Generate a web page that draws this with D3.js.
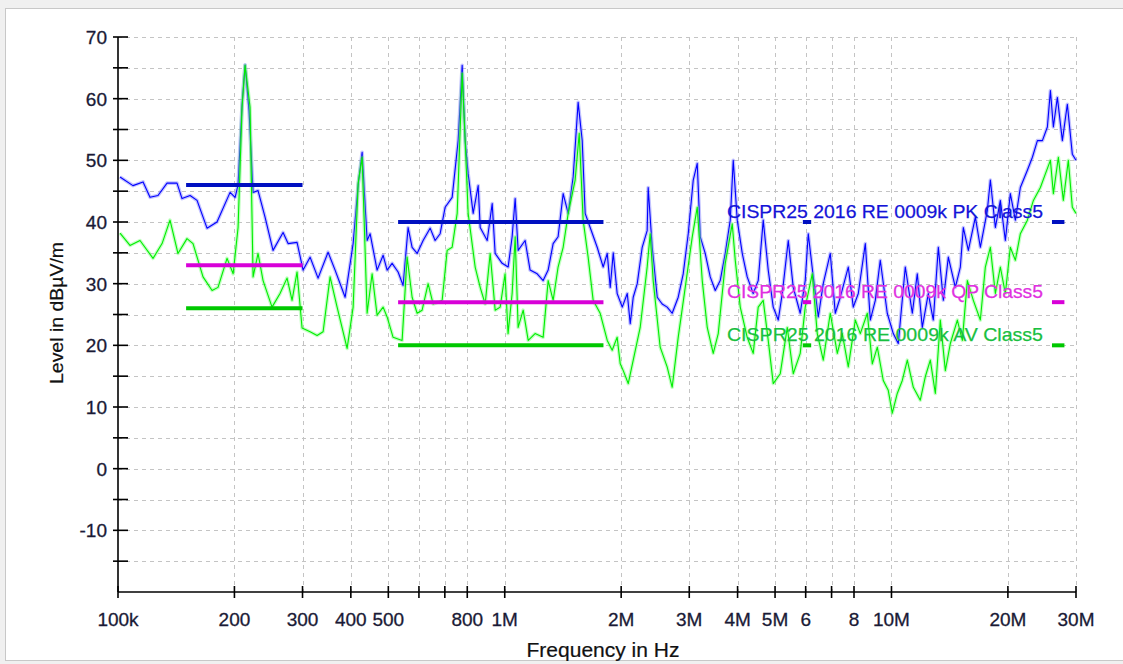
<!DOCTYPE html>
<html>
<head>
<meta charset="utf-8">
<script src="https://cdn.jsdelivr.net/npm/d3@7/dist/d3.min.js"></script>
<style>
  html, body { margin: 0; padding: 0; background: #f0f0f0; }
  svg { display: block; }
  text { font-family: "Liberation Sans", Arial, sans-serif; }
</style>
</head>
<body>
<svg id="chart" width="1123" height="664"></svg>
<script>
// ---------- data (frequencies in kHz, levels in dBµV/m) ----------
const pkFreq = [101.2,109.3,116.1,121.0,126.9,133.9,142.1,146.4,153.6,160.1,169.9,180.3,194.9,200.8,204.4,209.3,213.1,218.2,223.5,230.2,240.0,251.7,267.2,275.3,290.4,301.0,313.8,329.1,349.3,364.2,386.6,405.5,417.8,427.8,440.7,448.6,467.7,484.8,496.4,511.4,530.0,546.1,562.5,576.1,593.6,615.1,641.3,660.7,680.7,701.4,731.2,757.9,776.1,790.1,804.3,828.6,853.7,864.0,900.8,928.0,944.6,984.7,1020.5,1045,1064,1083,1129,1163,1213,1257,1295,1334,1374,1416,1459,1503,1548,1586,1614,1663,1734,1797,1841,1874,1908,1953,2013,2074,2111,2149,2201,2267,2335,2349,2406,2479,2553,2630,2710,2809,2894,2982,3072,3146,3203,3299,3399,3502,3607,3717,3829,3898,3992,4113,4236,4390,4523,4660,4801,4946,5096,5219,5409,5572,5808,5984,6093,6277,6467,6662,6946,7156,7373,7732,7966,8207,8557,8816,9082,9354,9752,10108,10413,10857,11320,11660,12014,12451,12828,13218,13617,14028,14626,15068,15339,15803,16476,16973,17696,18016,18560,19120,19700,20290,20910,21540,22460,23140,23840,24560,25300,25760,26220,26850,27660,28490,29350,30000];
const pkLevel = [47.3,45.9,46.5,44.0,44.3,46.3,46.3,43.8,44.3,43.5,39.0,40.0,44.8,44.0,46.0,59.0,65.5,58.0,44.8,45.1,40.8,35.4,38.3,36.5,36.7,32.2,34.3,30.9,35.1,32.2,27.8,36.5,46.0,51.3,37.0,38.1,32.2,34.6,32.2,33.3,31.9,29.7,39.1,35.9,34.9,37.0,39.0,37.0,38.1,42.4,44.0,53.2,65.4,53.2,47.8,41.4,45.9,39.1,37.0,43.0,34.9,33.3,32.7,37.6,43.8,35.4,37.0,32.2,31.6,30.5,32.2,36.5,37.6,44.6,41.4,47.3,59.4,53.2,41.4,39.1,35.9,32.7,34.9,29.4,35.0,28.4,26.2,28.4,23.5,27.8,30.0,35.9,38.6,45.6,35.9,27.8,26.7,26.2,25.2,27.8,31.6,38.1,46.8,49.5,37.6,34.9,31.1,28.9,30.5,34.9,40.3,50.0,40.3,34.9,31.1,28.4,30.5,40.3,32.2,26.2,24.1,28.4,37.0,29.4,25.2,30.5,38.1,31.1,24.6,30.0,34.9,25.2,27.8,32.7,26.2,28.4,36.5,24.1,27.3,33.8,25.2,21.9,20.3,32.7,25.2,31.6,22.9,28.4,24.1,35.9,27.3,34.3,29.4,32.7,39.1,35.4,40.8,35.9,41.9,46.8,39.1,43.5,37.0,44.6,40.3,45.6,48.4,50.5,53.2,53.2,55.4,61.3,55.4,60.2,53.2,59.1,51.0,50.0];

const avFreq = [101.2,107.4,114.0,123.2,130.0,136.3,142.9,150.8,156.3,165.9,175.1,181.4,191.4,198.5,204.4,209.3,213.1,219.5,223.5,230.2,237.2,250.2,262.4,273.6,281.9,290.4,299.2,313.8,327.2,339.1,353.5,368.6,391.2,405.5,417.8,427.8,440.7,454.0,467.7,484.8,496.4,514.4,542.8,559.2,576.1,593.6,611.5,633.7,652.9,689.0,709.8,731.2,753.4,776.1,790.1,804.3,838.5,864.0,890.1,917.0,944.6,973.0,1002,1020,1045,1064,1083,1116,1150,1198,1257,1295,1334,1374,1416,1459,1521,1558,1595,1643,1693,1765,1841,1896,1953,1989,2025,2086,2149,2240,2335,2377,2420,2523,2630,2710,2809,2929,3054,3146,3241,3339,3460,3565,3717,3875,3945,4064,4236,4390,4523,4660,4801,4946,5157,5377,5572,5808,5984,6240,6428,6662,6946,7243,7461,7732,8062,8306,8660,8921,9191,9523,9810,10048,10351,10665,10988,11388,11871,12230,12601,12983,13375,13781,14197,14802,15248,15710,16280,16973,17486,18016,18560,19120,19700,20290,20910,21540,22460,23280,24270,25000,25760,26220,27010,27820,28660,29350,30000];
const avLevel = [38.2,36.2,37.0,34.1,36.5,40.3,34.9,37.3,36.5,31.1,28.9,29.4,34.1,31.6,39.1,58.6,65.4,58.6,31.1,34.9,30.5,26.2,28.4,30.9,27.3,31.9,22.8,22.2,21.6,22.2,31.1,26.2,19.5,26.2,46.3,50.5,25.2,31.6,24.9,26.2,24.6,21.3,20.8,34.3,27.8,25.2,25.7,30.0,26.7,27.3,35.4,35.9,41.4,64.1,53.2,41.4,32.7,29.4,26.7,34.9,25.7,26.2,31.6,21.9,28.4,37.6,22.9,25.7,20.8,21.9,21.3,30.5,27.3,32.7,35.9,41.4,46.8,54.4,40.3,34.3,27.3,25.2,20.8,19.2,21.3,17.0,15.9,13.8,17.6,22.9,32.7,38.1,30.5,19.7,16.5,13.2,21.3,29.4,37.6,42.4,30.5,22.9,18.7,21.9,33.3,39.7,33.8,26.2,21.3,18.7,26.2,27.3,20.8,13.8,15.4,22.9,15.4,18.7,26.2,31.6,21.9,17.6,25.2,18.7,21.9,16.5,24.1,21.9,25.2,17.0,19.7,14.3,12.7,9.0,12.2,14.3,17.6,13.2,11.1,14.9,17.6,12.2,24.1,15.9,20.3,24.1,20.8,30.5,27.3,24.1,32.7,35.9,28.4,32.7,28.4,35.9,33.8,38.1,40.3,43.5,45.6,47.8,50.0,44.6,50.5,43.5,50.0,42.4,41.4];

// limit bands (kHz) and levels
const bandStart = [150, 530, 5900, 26000];
const bandEnd   = [300, 1800, 6200, 28000];
const pkLimit = [46, 40, 40, 40];
const qpLimit = [33, 27, 27, 27];
const avLimit = [26, 20, 20, 20];

const limitNames = ["CISPR25 2016 RE 0009k PK Class5", "CISPR25 2016 RE 0009k QP Class5", "CISPR25 2016 RE 0009k AV Class5"];

const xTickValues = [100,200,300,400,500,600,700,800,1000,2000,3000,4000,5000,6000,7000,8000,10000,20000,30000];
const xTickLabels = ["100k","200","300","400","500","","","800","1M","2M","3M","4M","5M","6","","8","10M","20M","30M"];
const yTickValues = [-20,-15,-10,-5,0,5,10,15,20,25,30,35,40,45,50,55,60,65,70];
const yLabelValues = [-10,0,10,20,30,40,50,60,70];

// ---------- drawing ----------
const svg = d3.select("#chart");
const W = 1123, H = 664;

// outer frame
svg.append("rect").attr("x", 5.5).attr("y", 8.5).attr("width", W).attr("height", 652)
  .attr("fill", "#ffffff").attr("stroke", "#c8c8c8").attr("stroke-width", 1);

const x = d3.scaleLog().domain([100, 30000]).range([118, 1076]);
const y = d3.scaleLinear().domain([-20, 70]).range([592, 37]);

// grid
const grid = svg.append("g").attr("stroke", "#c4c4c4").attr("stroke-width", 1).attr("stroke-dasharray", "4,4");
grid.selectAll("line.h").data(yTickValues.filter(v => v > -20)).enter().append("line")
  .attr("x1", x(100)).attr("x2", x(30000))
  .attr("y1", d => Math.round(y(d)) + 0.5).attr("y2", d => Math.round(y(d)) + 0.5);
grid.selectAll("line.v").data(xTickValues.filter(v => v > 100)).enter().append("line")
  .attr("y1", y(70)).attr("y2", y(-20))
  .attr("x1", d => Math.round(x(d)) + 0.5).attr("x2", d => Math.round(x(d)) + 0.5);

// traces
const line = d3.line().x(d => x(d[0])).y(d => y(d[1]));
const pkData = pkFreq.map((f, i) => [f, pkLevel[i]]);
const avData = avFreq.map((f, i) => [f, avLevel[i]]);

function trace(data, color, halo) {
  svg.append("path").datum(data).attr("d", line).attr("fill", "none")
    .attr("stroke", halo).attr("stroke-width", 3.6).attr("stroke-linejoin", "round").attr("opacity", 0.4);
  svg.append("path").datum(data).attr("d", line).attr("fill", "none")
    .attr("stroke", color).attr("stroke-width", 1.1).attr("stroke-linejoin", "round");
}
trace(pkData, "#0000ff", "#6a6aff");
trace(avData, "#00ee00", "#66ff66");

// limit lines
function limits(levels, color) {
  svg.append("g").selectAll("line").data(levels).enter().append("line")
    .attr("x1", (d, i) => x(bandStart[i])).attr("x2", (d, i) => x(bandEnd[i]))
    .attr("y1", d => y(d)).attr("y2", d => y(d))
    .attr("stroke", color).attr("stroke-width", 4);
}
limits(pkLimit, "#0010c0");
limits(qpLimit, "#d800d8");
limits(avLimit, "#00c800");

// limit names
const nameColors = ["#1414d8", "#e030e0", "#18c040"];
const nameLevels = [pkLimit[3], qpLimit[3], avLimit[3]];
svg.append("g").selectAll("text").data(limitNames).enter().append("text")
  .attr("x", 1043).attr("y", (d, i) => y(nameLevels[i]) - 4)
  .attr("text-anchor", "end").attr("font-size", 19)
  .attr("textLength", 316).attr("lengthAdjust", "spacingAndGlyphs")
  .attr("fill", (d, i) => nameColors[i])
  .attr("stroke", (d, i) => nameColors[i]).attr("stroke-width", 0.25)
  .text(d => d);

// axes
const axisColor = "#000000";
svg.append("line").attr("x1", 118).attr("x2", 118).attr("y1", y(-20)).attr("y2", y(70))
  .attr("stroke", axisColor).attr("stroke-width", 1.6);
svg.append("line").attr("x1", 118).attr("x2", x(30000)).attr("y1", y(-20)).attr("y2", y(-20))
  .attr("stroke", axisColor).attr("stroke-width", 1.6);

// y ticks
svg.append("g").selectAll("line").data(yTickValues.filter(v => v > -20)).enter().append("line")
  .attr("x1", 113).attr("x2", 128).attr("y1", d => y(d)).attr("y2", d => y(d))
  .attr("stroke", axisColor).attr("stroke-width", 1.6);
// x ticks
svg.append("g").selectAll("line").data(xTickValues).enter().append("line")
  .attr("x1", d => x(d)).attr("x2", d => x(d)).attr("y1", y(-20) - 6).attr("y2", y(-20) + 6)
  .attr("stroke", axisColor).attr("stroke-width", 1.6);

// y labels
svg.append("g").selectAll("text").data(yLabelValues).enter().append("text")
  .attr("x", 107).attr("y", d => y(d) + 7).attr("text-anchor", "end")
  .attr("font-size", 19).attr("fill", "#1a1a36").attr("stroke", "#1a1a36").attr("stroke-width", 0.3)
  .text(d => d);

// x labels
svg.append("g").selectAll("text").data(xTickValues).enter().append("text")
  .attr("x", d => x(d)).attr("y", 626).attr("text-anchor", "middle")
  .attr("font-size", 19).attr("fill", "#1a1a36").attr("stroke", "#1a1a36").attr("stroke-width", 0.3)
  .text((d, i) => xTickLabels[i]);

// axis titles
svg.append("text").attr("x", 603).attr("y", 657).attr("text-anchor", "middle")
  .attr("font-size", 20).attr("textLength", 153).attr("lengthAdjust", "spacingAndGlyphs")
  .attr("fill", "#111").attr("stroke", "#111").attr("stroke-width", 0.2).text("Frequency in Hz");
svg.append("text").attr("transform", "translate(63,313) rotate(-90)").attr("text-anchor", "middle")
  .attr("font-size", 18.5).attr("textLength", 142).attr("lengthAdjust", "spacingAndGlyphs")
  .attr("fill", "#111").attr("stroke", "#111").attr("stroke-width", 0.2).text("Level in dBµV/m");
</script>
</body>
</html>
